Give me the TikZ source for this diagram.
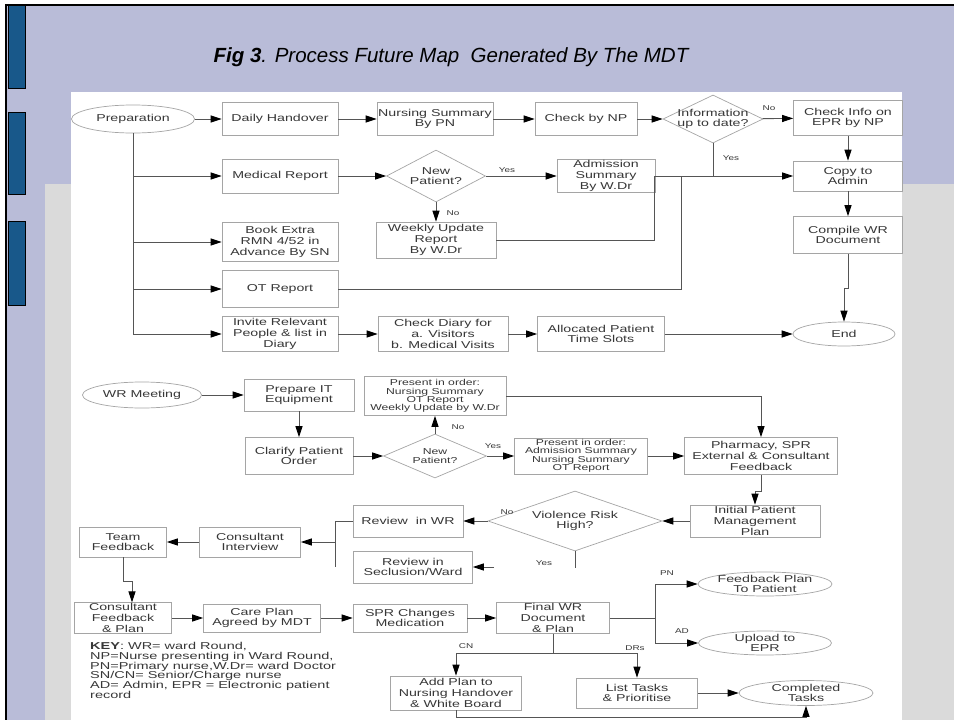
\documentclass[tikz,border=0pt]{standalone}
\usepackage{fontspec}
\setmainfont{Liberation Sans}
\newfontfamily\boxfont[FakeStretch=1.42]{Liberation Sans}
\newfontfamily\keyfont[FakeStretch=1.45]{Liberation Sans}
\usetikzlibrary{shapes.geometric,arrows.meta}
\definecolor{lav}{RGB}{185,188,216}
\definecolor{pgray}{RGB}{218,218,218}
\definecolor{barblue}{RGB}{24,88,138}
\definecolor{bordc}{RGB}{165,165,165}
\definecolor{linec}{RGB}{85,85,85}
\definecolor{txtc}{RGB}{55,55,55}
\begin{document}
\begin{tikzpicture}[x=1pt,y=-1pt,
  box/.style 2 args={draw=bordc, line width=0.7pt, fill=white, text=txtc, align=center, inner sep=1pt, minimum width=#1, minimum height=#2, font=\boxfont\fontsize{10}{10.6}\selectfont},
  sbox/.style 2 args={box={#1}{#2}, font=\boxfont\fontsize{8.6}{8.4}\selectfont},
  ell/.style 2 args={ellipse, draw=bordc, line width=0.7pt, fill=white, inner sep=0pt, minimum width=#1, minimum height=#2},
  dia/.style 2 args={diamond, draw=bordc, line width=0.7pt, fill=white, inner sep=0pt, minimum width=#1, minimum height=#2},
  txt/.style={text=txtc, align=center, inner sep=0pt, font=\boxfont\fontsize{10}{10.6}\selectfont},
  stxt/.style={text=txtc, align=center, inner sep=0pt, font=\boxfont\fontsize{8.6}{8.6}\selectfont},
  lbl/.style={text=txtc, inner sep=0pt, font=\boxfont\fontsize{7}{8}\selectfont},
  conn/.style={draw=linec, line width=0.9pt},
  arr/.style={conn, -{Triangle[length=11pt,width=7pt,color=black]}},
]
\useasboundingbox (0,0) rectangle (954,720);
% background
\fill[white] (0,0) rectangle (954,720);
\fill[lav] (6,5) rectangle (954,720);
\fill[pgray] (45,184) rectangle (954,720);
\fill[white] (71,92) rectangle (902,720);
\draw[black, line width=1.6pt] (954,5) -- (6,5) -- (6,720);
\foreach \a/\b in {5/88,112/194,221/305}
  \filldraw[fill=barblue, draw=black, line width=0.6pt] (8,\a) rectangle (25,\b);
% title
\node[font=\fontsize{20.5}{24}\selectfont\itshape, text=black] (title) at (451,57) {\textbf{Fig 3}. Process Future Map\ \ Generated By The MDT};

% ---------- section 1 ----------
\node[ell={123}{28}, label={[txt]center:Preparation}] (prep) at (133,119) {};
\node[box={116}{33}] (daily) at (280,119) {Daily Handover};
\node[box={116}{33}] (nursum) at (435,119) {Nursing Summary\\By PN};
\node[box={102}{33}] (checknp) at (586,119) {Check by NP};
\node[dia={100}{48}, label={[txt]center:{Information\\up to date?}}] (info) at (713,119) {};
\node[box={109}{35}] (checkinfo) at (848,118) {Check Info on\\EPR by NP};
\node[box={109}{30}] (copyadmin) at (848,176) {Copy to\\Admin};
\node[box={109}{37}] (compile) at (848,235) {Compile WR\\Document};
\node[ell={102}{24}, label={[txt]center:End}] (endel) at (844,334) {};

\node[box={116}{34}] (medrep) at (280,176) {Medical Report};
\node[dia={99}{52}, label={[txt]center:{New\\Patient?}}] (newpat1) at (436,176) {};
\node[box={98}{32}] (admsum) at (606,176) {Admission\\Summary\\By W.Dr};
\node[box={120}{36}] (weekly) at (436,240) {Weekly Update\\Report\\By W.Dr};
\node[box={116}{39}] (bookextra) at (280,242) {Book Extra\\RMN 4/52 in\\Advance By SN};
\node[box={116}{37}] (otrep) at (280,289) {OT Report};
\node[box={116}{35}] (invite) at (280,334) {Invite Relevant\\People \& list in\\Diary};
\node[box={130}{35}] (checkdiary) at (443,334) {Check Diary for\\a. Visitors\\b. Medical Visits};
\node[box={127}{35}] (alloc) at (601,334) {Allocated Patient\\Time Slots};

\draw[arr] (prep) -- (daily);
\draw[arr] (daily) -- (nursum);
\draw[arr] (nursum) -- (checknp);
\draw[arr] (checknp) -- (info);
\draw[arr] (info) -- (checkinfo);
\draw[arr] (checkinfo) -- (copyadmin);
\draw[arr] (copyadmin) -- (compile);
\draw[conn] (compile.south) -- ++(0,35) coordinate (cj);
\draw[arr] (cj) -| (endel.north);

\draw[arr] (prep.south) |- (invite.west);
\draw[arr] (prep.south |- medrep.west) -- (medrep.west);
\draw[arr] (prep.south |- bookextra.west) -- (bookextra.west);
\draw[arr] (prep.south |- otrep.west) -- (otrep.west);
\draw[arr] (medrep) -- (newpat1);
\draw[arr] (newpat1) -- (admsum);
\draw[arr] (newpat1) -- (weekly);
\draw[arr] (admsum) -- (copyadmin);
\coordinate (j1) at (654,176);
\coordinate (j2) at (681,176);
\draw[conn] (weekly.east) -| (j1);
\draw[conn] (otrep.east) -| (j2);
\draw[conn] (info.south) -- (info.south |- j1);
\draw[arr] (invite) -- (checkdiary);
\draw[arr] (checkdiary) -- (alloc);
\draw[arr] (alloc) -- (endel);

\node[lbl] (l1) at (769,108) {No};
\node[lbl] (l2) at (731,158) {Yes};
\node[lbl] (l3) at (507,170) {Yes};
\node[lbl] (l4) at (453,213) {No};

% ---------- section 2 ----------
\node[ell={119}{26}, label={[txt]center:WR Meeting}] (wrmeet) at (142,395) {};
\node[box={110}{32}] (prepit) at (299,395) {Prepare IT\\Equipment};
\node[box={108}{37}] (clarify) at (299,456) {Clarify Patient\\Order};
\node[dia={103}{44}, label={[stxt]center:{New\\Patient?}}] (newpat2) at (435,456) {};
\node[sbox={142}{39}] (presnurs) at (435,396) {Present in order:\\Nursing Summary\\OT Report\\Weekly Update by W.Dr};
\node[sbox={133}{36}, font=\boxfont\fontsize{8.6}{7.8}\selectfont] (presadm) at (581,456) {Present in order:\\Admission Summary\\Nursing Summary\\OT Report};
\node[box={153}{37}] (pharm) at (761,456) {Pharmacy, SPR\\External \& Consultant\\Feedback};
\node[box={130}{32}] (initplan) at (755,521) {Initial Patient\\Management\\Plan};
\node[dia={174}{60}, label={[txt]center:{Violence Risk\\High?}}] (violence) at (575,521) {};
\node[box={110}{32}] (reviewwr) at (408,521) {Review\ \ in WR};
\node[box={119}{32}] (seclusion) at (413,567) {Review in\\Seclusion/Ward};
\node[box={101}{30}] (consint) at (250,542) {Consultant\\Interview};
\node[box={87}{30}] (teamfb) at (123,542) {Team\\Feedback};
\node[box={97}{30}] (consfb) at (123,618) {Consultant\\Feedback\\\& Plan};
\node[box={117}{28}] (careplan) at (262,618) {Care Plan\\Agreed by MDT};
\node[box={114}{28}] (sprch) at (410,618) {SPR Changes\\Medication};
\node[box={113}{29}] (finalwr) at (553,618) {Final WR\\Document\\\& Plan};
\node[ell={134}{24}, label={[txt]center:{Feedback Plan\\To Patient}}] (feedback) at (765,584) {};
\node[ell={133}{24}, label={[txt]center:{Upload to\\EPR}}] (upload) at (765,643) {};
\node[box={131}{34}] (addplan) at (456,693) {Add Plan to\\Nursing Handover\\\& White Board};
\node[box={121}{30}] (listtasks) at (637,693) {List Tasks\\\& Prioritise};
\node[ell={134}{25}, label={[txt]center:{Completed\\Tasks}}] (completed) at (806,693) {};

\draw[arr] (wrmeet) -- (prepit);
\draw[arr] (prepit) -- (clarify);
\draw[arr] (clarify) -- (newpat2);
\draw[arr] (newpat2) -- (presnurs);
\draw[arr] (newpat2) -- (presadm);
\draw[arr] (presadm) -- (pharm);
\draw[arr] (presnurs.east) -| (pharm.north);
\draw[conn] (pharm.south) -- ++(0,17) coordinate (pj);
\draw[arr] (pj) -| (initplan.north);
\draw[arr] (initplan) -- (violence);
\draw[arr] (violence) -- (reviewwr);
\draw[conn] (violence.south) -- ++(0,17);
\coordinate (secin) at (494,567);
\draw[arr] (secin) -- (seclusion.east);
\coordinate (cj1) at (335,521);
\coordinate (cj2) at (335,567);
\draw[conn] (reviewwr.west) -- (cj1) -- (cj2);
\draw[arr] (cj1 |- consint.east) -- (consint.east);
\draw[arr] (consint) -- (teamfb);
\draw[conn] (teamfb.south) -- ++(0,24) coordinate (tj);
\draw[arr] (tj) -| ([xshift=9pt]consfb.north);
\draw[arr] (consfb) -- (careplan);
\draw[arr] (careplan) -- (sprch);
\draw[arr] (sprch) -- (finalwr);
\coordinate (fj) at (655,618);
\draw[conn] (finalwr.east) -- (fj);
\draw[arr] (fj) |- (feedback.west);
\draw[arr] (fj) |- (upload.west);
\coordinate (dj) at (553,653);
\draw[conn] (finalwr.south) -- (dj);
\draw[arr] (dj) -| (addplan.north);
\draw[arr] (dj) -| (listtasks.north);
\draw[arr] (listtasks) -- (completed);
\coordinate (aj) at (456,717);
\draw[arr] (addplan.south) -- (aj) -| (completed.south);

\node[lbl] (l5) at (458,427) {No};
\node[lbl] (l6) at (493,446) {Yes};
\node[lbl] (l7) at (507,512) {No};
\node[lbl] (l8) at (544,563) {Yes};
\node[lbl] (l9) at (667,573) {PN};
\node[lbl] (l10) at (682,631) {AD};
\node[lbl] (l11) at (466,646) {CN};
\node[lbl] (l12) at (635,648) {DRs};

\node[anchor=north west, align=left, inner sep=0pt, text=txtc, font=\keyfont\fontsize{10}{9.8}\selectfont] (key) at (90,642)
 {\textbf{KEY}: WR= ward Round,\\NP=Nurse presenting in Ward Round,\\PN=Primary nurse,W.Dr= ward Doctor\\SN/CN= Senior/Charge nurse\\AD= Admin, EPR = Electronic patient\\record};
\end{tikzpicture}
\end{document}
